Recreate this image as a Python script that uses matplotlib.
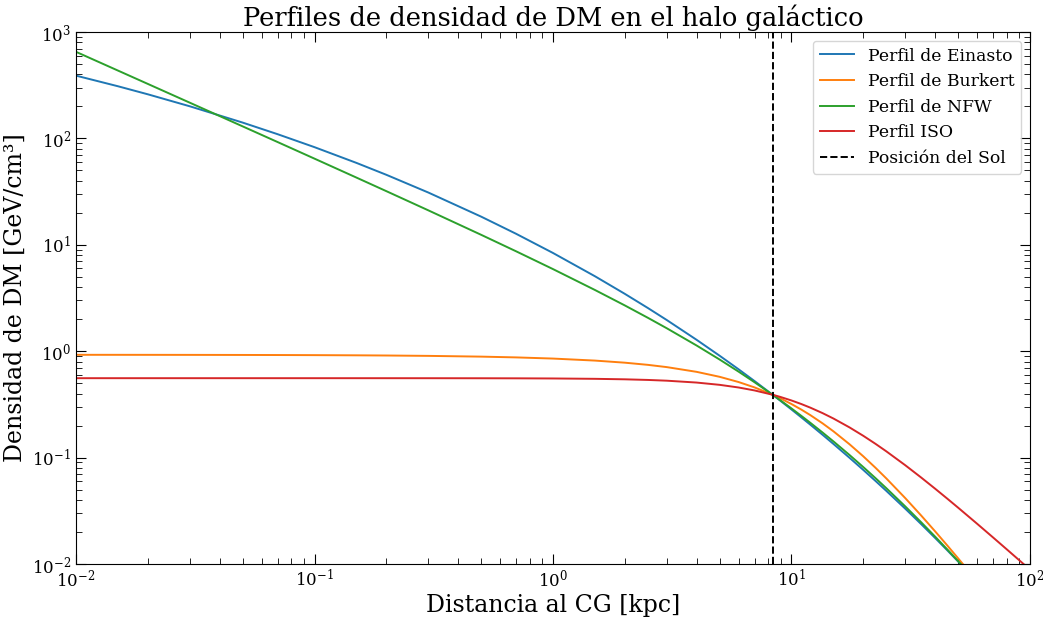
import matplotlib
matplotlib.use("Agg")
import matplotlib.pyplot as plt

# Radios (kpc) y densidades de DM (GeV/cm^3) para cada perfil
r_kpc = [0.01, 0.015, 0.02, 0.03, 0.05, 0.07, 0.1, 0.15, 0.2, 0.3, 0.5, 0.7,
         1, 1.5, 2, 2.5, 3, 4, 5, 6, 7, 8.33, 9, 10, 11, 12, 13.5, 15, 17.5,
         20, 22.5, 25, 30, 35, 40, 45, 50, 60, 70, 80, 90, 100]

rho_einasto = [389.1, 309.1, 259.8, 200.4, 140.8, 109.6, 82.75, 58.84, 45.52,
               31.01, 18.39, 12.70, 8.38, 5.061, 3.462, 2.546, 1.963, 1.280,
               0.9059, 0.6762, 0.5240, 0.39, 0.34105, 0.2833, 0.23879, 0.2038,
               0.16387, 0.1343, 0.09975, 0.07661, 0.06038, 0.04861, 0.03309,
               0.023674, 0.01759, 0.013459, 0.010544, 0.006840, 0.004694,
               0.00336, 0.002487, 0.00189]
rho_burkert = [0.92509, 0.92472, 0.92436, 0.92363, 0.92217, 0.92070, 0.91851,
               0.91486, 0.91121, 0.90390, 0.88929, 0.87468, 0.85278, 0.81637,
               0.78016, 0.74428, 0.70884, 0.63989, 0.57440, 0.51321, 0.45689,
               0.39, 0.35977, 0.31882, 0.28258, 0.25065, 0.20991, 0.17652,
               0.13371, 0.10283, 0.080298, 0.063635, 0.041611, 0.028510,
               0.020307, 0.014940, 0.011293, 0.0068905, 0.0045011, 0.0030973,
               0.0022203, 0.0016449]
rho_nfw = [651.2, 433.9, 325.3, 216.63, 129.7, 92.47, 64.54, 42.81, 31.95,
           21.09, 12.41, 8.693, 5.912, 3.760, 2.694, 2.0601, 1.643, 1.1317,
           0.8344, 0.6428, 0.5109, 0.39, 0.34448, 0.2897, 0.24665, 0.2122,
           0.17210, 0.1419, 0.10595, 0.08148, 0.064157, 0.05150, 0.03477,
           0.024627, 0.01811, 0.013714, 0.01064, 0.00679, 0.0045985, 0.00326,
           0.0023943, 0.00181]
rho_iso = [0.55779, 0.55779, 0.55779, 0.55779, 0.55778, 0.55777, 0.55776,
           0.55771, 0.55765, 0.55748, 0.55693, 0.55610, 0.55435, 0.55012,
           0.54429, 0.53698, 0.52831, 0.50745, 0.48293, 0.45600, 0.42782,
           0.39, 0.37130, 0.34432, 0.31870, 0.29469, 0.26188, 0.23290,
           0.19242, 0.16029, 0.13477, 0.11442, 0.084771, 0.064897, 0.051080,
           0.041150, 0.033806, 0.023919, 0.017775, 0.013712, 0.010890,
           0.0088538]

r_sol = 8.33

plt.rcParams['font.family'] = 'DejaVu Serif'
plt.rcParams['mathtext.fontset'] = 'dejavuserif'

fig = plt.figure(figsize=(10.43, 6.17), dpi=100)
ax = fig.add_axes([0.0729, 0.0859, 0.9146, 0.8622])

ax.plot(r_kpc, rho_einasto, color='tab:blue', lw=1.4, label='Perfil de Einasto')
ax.plot(r_kpc, rho_burkert, color='tab:orange', lw=1.4, label='Perfil de Burkert')
ax.plot(r_kpc, rho_nfw, color='tab:green', lw=1.4, label='Perfil de NFW')
ax.plot(r_kpc, rho_iso, color='tab:red', lw=1.4, label='Perfil ISO')
ax.axvline(r_sol, color='black', ls='--', lw=1.4, label='Posición del Sol')

ax.set_xscale('log')
ax.set_yscale('log')
ax.set_xlim(1e-2, 1e2)
ax.set_ylim(1e-2, 1e3)

ax.set_title('Perfiles de densidad de DM en el halo galáctico', fontsize=18.5, pad=4)
ax.set_xlabel('Distancia al CG [kpc]', fontsize=17, labelpad=2)
ax.set_ylabel('Densidad de DM [GeV/cm³]', fontsize=17, labelpad=4)

ax.tick_params(which='both', direction='in', top=True, right=True, labelsize=12)
ax.tick_params(which='major', length=7)
ax.tick_params(which='minor', length=4)

ax.legend(loc='upper right', fontsize=12.4)

fig.savefig('out.png', dpi=100)
